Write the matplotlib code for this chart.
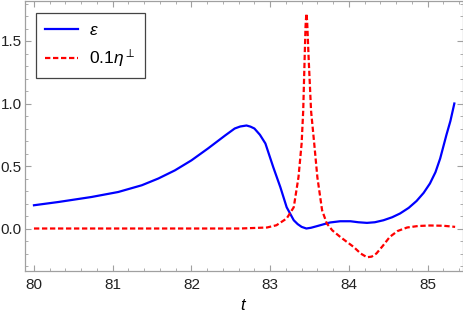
import numpy as np
import matplotlib.pyplot as plt
from matplotlib.ticker import MultipleLocator

# values
t_eps = [80.0, 80.31, 80.73, 81.07, 81.37, 81.58, 81.79, 82.0, 82.21, 82.43, 82.55,
         82.62, 82.70, 82.75, 82.8, 82.87, 82.94, 83.04, 83.13, 83.21, 83.30, 83.35,
         83.40, 83.46, 83.52, 83.59, 83.76, 83.89, 84.02, 84.12, 84.23, 84.33, 84.44,
         84.55, 84.65, 84.76, 84.86, 84.95, 85.03, 85.1, 85.16, 85.24, 85.29, 85.34]
eps = [0.186, 0.212, 0.252, 0.292, 0.346, 0.40, 0.465, 0.545, 0.64, 0.745, 0.80,
       0.816, 0.824, 0.815, 0.80, 0.75, 0.68, 0.49, 0.33, 0.17, 0.066, 0.035,
       0.013, 0.0, 0.006, 0.018, 0.048, 0.058, 0.058, 0.05, 0.045, 0.05, 0.066,
       0.09, 0.12, 0.165, 0.22, 0.285, 0.36, 0.45, 0.56, 0.75, 0.86, 1.0]

t_eta = [80.0, 82.62, 82.96, 83.08, 83.21, 83.30, 83.36, 83.40, 83.42, 83.44, 83.45,
         83.46, 83.47, 83.49, 83.52, 83.56, 83.60, 83.66, 83.72, 83.79, 83.89, 83.97,
         84.06, 84.15, 84.23, 84.29, 84.35, 84.43, 84.52, 84.62, 84.74, 84.88, 85.03,
         85.2, 85.35]
eta = [0.0, 0.0, 0.008, 0.026, 0.08, 0.17, 0.41, 0.68, 0.94, 1.40, 1.62,
       1.72, 1.66, 1.35, 0.94, 0.68, 0.41, 0.146, 0.04, -0.015, -0.067, -0.105,
       -0.147, -0.2, -0.23, -0.225, -0.2, -0.14, -0.067, -0.02, 0.008, 0.02, 0.024,
       0.022, 0.013]

plt.rcParams['font.family'] = 'Liberation Sans'
plt.rcParams['mathtext.fontset'] = 'custom'
plt.rcParams['mathtext.rm'] = 'Liberation Sans'
plt.rcParams['mathtext.it'] = 'Liberation Sans:italic'

fig = plt.figure(figsize=(4.64, 3.21), dpi=100)
ax = fig.add_axes([25 / 464, 50 / 321, 438 / 464, 270 / 321])

ax.plot(t_eps, eps, color='#0000ff', linewidth=1.6, label=r'$\epsilon$')
ax.plot(t_eta, eta, color='#ff0000', linewidth=1.6, dashes=(2.4, 1.2),
        label=r'$0.1\eta^{\perp}$')

ax.set_xlim(79.886, 85.45)
ax.set_ylim(-0.34, 1.82)

ax.xaxis.set_major_locator(MultipleLocator(1))
ax.xaxis.set_minor_locator(MultipleLocator(0.2))
ax.yaxis.set_major_locator(MultipleLocator(0.5))
ax.yaxis.set_minor_locator(MultipleLocator(0.1))
ax.yaxis.set_major_formatter(plt.FormatStrFormatter('%.1f'))

for s in ax.spines.values():
    s.set_color('#a0a0a0')
    s.set_linewidth(0.9)
ax.tick_params(which='both', direction='in', top=True, right=True, color='#a0a0a0',
               labelsize=11, labelcolor='#222222')
ax.tick_params(which='major', length=4, width=0.8)
ax.tick_params(axis='x', which='major', pad=5)
ax.tick_params(axis='y', which='major', pad=2.5)
ax.tick_params(which='minor', length=2.2, width=0.6)

ax.set_xlabel(r'$t$', fontsize=12, labelpad=4)

leg = ax.legend(loc='upper left', bbox_to_anchor=(0.025, 0.956), borderaxespad=0,
                fontsize=12.5, fancybox=False, framealpha=1, edgecolor='#444444',
                handlelength=1.9, handletextpad=0.6, borderpad=0.55, labelspacing=0.55)
leg.get_frame().set_linewidth(0.9)

plt.savefig('out.png', dpi=100)
